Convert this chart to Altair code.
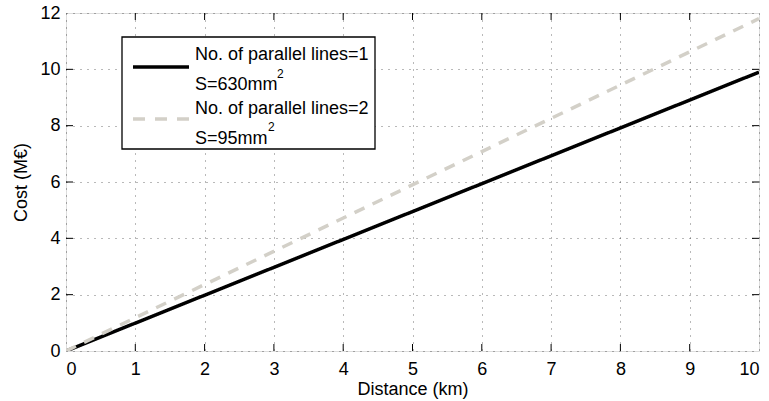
import altair as alt
import pandas as pd

distance = [0, 10]
cost_one_line = [0, 9.9]
cost_two_lines = [0, 11.8]
series_names = ["No. of parallel lines=1", "No. of parallel lines=2"]
sections = ["S=630mm", "S=95mm"]
superscripts = ["2", "2"]
colors = ["#000000", "#d3d0c8"]
x_ticks = list(range(0, 11))
y_ticks = [0, 2, 4, 6, 8, 10, 12]

rows = []
for d, c in zip(distance, cost_one_line):
    rows.append({"Distance": d, "Cost": c, "series": series_names[0]})
for d, c in zip(distance, cost_two_lines):
    rows.append({"Distance": d, "Cost": c, "series": series_names[1]})
df = pd.DataFrame(rows)

W, H = 693, 338
FONT = "Liberation Sans"
FS = 18

xscale = alt.Scale(domain=[0, 10], nice=False, zero=False)
yscale = alt.Scale(domain=[0, 12], nice=False, zero=False)

lines = alt.Chart(df).mark_line(clip=True).encode(
    x=alt.X("Distance:Q", scale=xscale,
            axis=alt.Axis(values=x_ticks, format="d", title="Distance (km)", grid=True,
                          gridDash=[1, 6], gridColor="#000", gridOpacity=0.55,
                          tickSize=0, labelPadding=9, labelFontSize=FS,
                          titleFontSize=FS, titleFontWeight="normal",
                          titlePadding=2, domain=False, labelColor="#000",
                          titleColor="#000", labelFont=FONT, titleFont=FONT)),
    y=alt.Y("Cost:Q", scale=yscale,
            axis=alt.Axis(values=y_ticks, format="d", title="Cost (M€)", grid=True,
                          gridDash=[1, 6], gridColor="#000", gridOpacity=0.55,
                          tickSize=0, labelPadding=6, labelFontSize=FS,
                          titleFontSize=FS, titleFontWeight="normal",
                          titlePadding=9, domain=False, labelColor="#000",
                          titleColor="#000", labelFont=FONT, titleFont=FONT)),
    color=alt.Color("series:N", scale=alt.Scale(domain=series_names, range=colors),
                    legend=None),
    strokeDash=alt.StrokeDash("series:N",
                              scale=alt.Scale(domain=series_names, range=[[1, 0], [11, 9]]),
                              legend=None),
    strokeWidth=alt.value(3.5),
)

tick_df_x = pd.DataFrame({"v": x_ticks[1:-1]})
tick_df_y = pd.DataFrame({"v": y_ticks[1:-1]})

xt_bottom = alt.Chart(tick_df_x).mark_rule(color="#000", strokeWidth=1).encode(
    x=alt.X("v:Q", scale=xscale), y=alt.value(H), y2=alt.value(H - 7))
xt_top = alt.Chart(tick_df_x).mark_rule(color="#000", strokeWidth=1).encode(
    x=alt.X("v:Q", scale=xscale), y=alt.value(0), y2=alt.value(7))
yt_left = alt.Chart(tick_df_y).mark_rule(color="#000", strokeWidth=1).encode(
    y=alt.Y("v:Q", scale=yscale), x=alt.value(0), x2=alt.value(7))
yt_right = alt.Chart(tick_df_y).mark_rule(color="#000", strokeWidth=1).encode(
    y=alt.Y("v:Q", scale=yscale), x=alt.value(W), x2=alt.value(W - 7))

# legend drawn by hand (box, line samples, two-line labels with superscripts)
one = pd.DataFrame({"k": [0]})
legend_layers = [
    alt.Chart(one).mark_rect(fill="white", stroke="#000", strokeWidth=1.3).encode(
        x=alt.value(56), x2=alt.value(309), y=alt.value(24), y2=alt.value(136))
]
sym_y = [54, 106]
dashes = [[1, 0], [12, 10]]
line1_y = [47, 101]
line2_y = [77, 131]
sup_x = [211, 202]
sup_y = [65, 118]
for i in range(2):
    legend_layers.append(
        alt.Chart(one).mark_rule(color=colors[i], strokeWidth=3.5, strokeDash=dashes[i]).encode(
            x=alt.value(67), x2=alt.value(123), y=alt.value(sym_y[i])))
    legend_layers.append(
        alt.Chart(one).mark_text(text=series_names[i], align="left", baseline="alphabetic",
                                 font=FONT, fontSize=FS, color="#000").encode(
            x=alt.value(129), y=alt.value(line1_y[i])))
    legend_layers.append(
        alt.Chart(one).mark_text(text=sections[i], align="left", baseline="alphabetic",
                                 font=FONT, fontSize=FS, color="#000").encode(
            x=alt.value(129), y=alt.value(line2_y[i])))
    legend_layers.append(
        alt.Chart(one).mark_text(text=superscripts[i], align="left", baseline="alphabetic",
                                 font=FONT, fontSize=12, color="#000").encode(
            x=alt.value(sup_x[i]), y=alt.value(sup_y[i])))

chart = alt.layer(lines, xt_bottom, xt_top, yt_left, yt_right, *legend_layers).properties(
    width=W, height=H,
    autosize=alt.AutoSizeParams(type="none"),
    padding={"left": 66, "top": 13, "right": 10, "bottom": 50},
).configure_view(stroke="#000", strokeWidth=1.5).configure(background="white")

chart.save("out.html", embed_options={"renderer": "svg", "actions": False})
